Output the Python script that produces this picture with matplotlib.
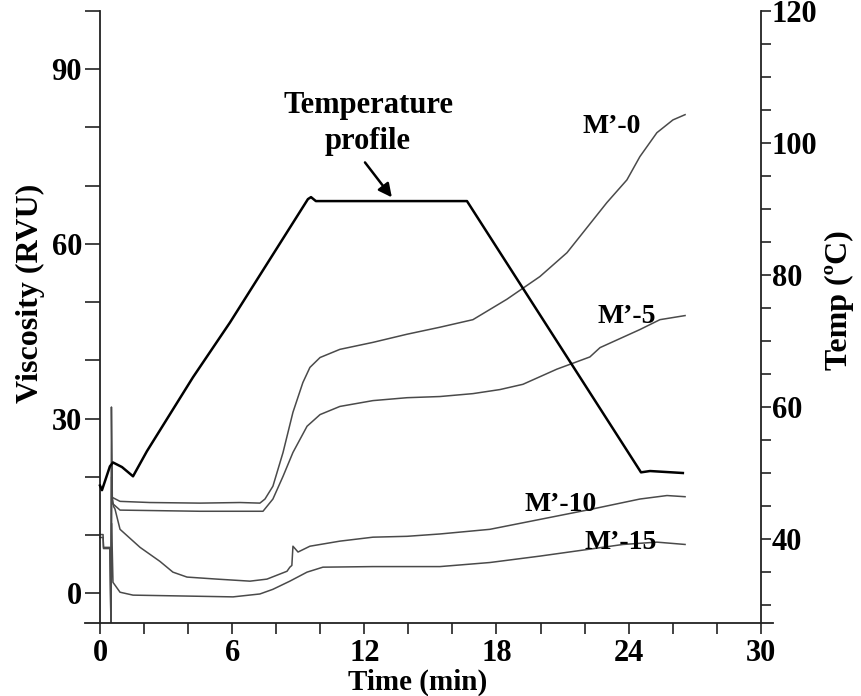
import numpy as np
import matplotlib
matplotlib.use("Agg")
import matplotlib.pyplot as plt

plt.rcParams['font.family'] = ['Liberation Serif', 'DejaVu Serif']
plt.rcParams['font.weight'] = 'bold'
plt.rcParams['axes.labelweight'] = 'bold'

# RVA pasting curves, time in min, viscosity in RVU
m0_t = [0.50, 0.53, 0.55, 0.91, 2.27, 4.54, 6.36, 7.26, 7.49, 7.85, 8.31, 8.76, 9.21, 9.53,
        9.99, 10.89, 12.39, 13.94, 15.43, 16.93, 18.47, 19.97, 21.2, 21.79, 23.01, 23.92,
        24.51, 25.28, 26.01, 26.56]
m0_v = [-6, 22.0, 16.5, 15.8, 15.6, 15.5, 15.6, 15.5, 16.2, 18.4, 24.2, 31.1, 36.2, 38.8,
        40.5, 41.9, 43.1, 44.5, 45.7, 47.0, 50.5, 54.4, 58.5, 61.3, 67.1, 71.0,
        75.0, 79.1, 81.3, 82.2]

m5_t = [0.50, 0.53, 0.55, 0.91, 4.54, 7.40, 7.85, 8.31, 8.76, 9.40, 9.99, 10.89, 12.39,
        13.94, 15.43, 16.93, 18.16, 19.20, 20.74, 22.24, 22.70, 24.51, 25.42, 26.56]
m5_v = [-6, 20.0, 15.5, 14.3, 14.1, 14.1, 16.2, 20.1, 24.2, 28.7, 30.7, 32.1, 33.1,
        33.6, 33.8, 34.3, 35.0, 35.9, 38.5, 40.6, 42.2, 45.3, 47.0, 47.7]

m10_t = [0, 0.14, 0.16, 0.45, 0.50, 0.52, 0.56, 0.62, 0.68, 0.91, 1.82, 2.72, 3.31, 3.95,
         5.31, 6.81, 7.58, 8.49, 8.62, 8.71, 8.76, 8.99, 9.53, 10.89, 12.39, 13.94, 15.43,
         17.7, 19.97, 22.24, 24.51, 25.74, 26.56]
m10_v = [10.1, 10.1, 7.7, 7.7, -6, 32.0, 16.5, 14.9, 14.5, 11.0, 7.9, 5.5, 3.65, 2.8,
         2.45, 2.1, 2.45, 3.8, 4.5, 4.8, 8.1, 7.1, 8.1, 8.97, 9.65, 9.8, 10.2,
         11.0, 12.7, 14.4, 16.2, 16.8, 16.6]

m15_t = [0, 0.14, 0.16, 0.45, 0.50, 0.53, 0.59, 0.91, 1.5, 4.54, 6.04, 7.26, 7.85, 8.62,
         9.4, 10.12, 12.39, 15.43, 17.7, 19.97, 22.24, 23.74, 25.28, 26.56]
m15_v = [9.6, 9.6, 7.9, 7.9, -6, 12.0, 1.9, 0.2, -0.3, -0.5, -0.6, -0.1, 0.7, 2.1,
         3.65, 4.5, 4.6, 4.6, 5.3, 6.4, 7.6, 8.4, 8.8, 8.4]

# temperature program (deg C)
temp_t = [0, 0.09, 0.45, 0.59, 1.0, 1.5, 2.13, 4.22, 5.9, 9.44, 9.58, 9.8, 16.66,
          24.56, 24.97, 26.46]
temp_c = [48.1, 47.4, 51.0, 51.6, 50.9, 49.5, 53.3, 64.5, 72.8, 91.5, 91.8, 91.2, 91.2,
          50.1, 50.3, 50.0]

names = ["M\u2019-0", "M\u2019-5", "M\u2019-10", "M\u2019-15"]
label_pos = [(23.24, 79.1), (23.92, 46.5), (20.93, 14.1), (23.65, 7.6)]

fig = plt.figure(figsize=(8.62, 6.96), dpi=100)
ax = fig.add_axes([0.0981, 0.1056, 0.7986, 0.8786])
ax2 = ax.twinx()

grey = '#4a4a4a'
for t, v in [(m0_t, m0_v), (m5_t, m5_v), (m10_t, m10_v), (m15_t, m15_v)]:
    ax.plot(t, v, color=grey, lw=1.1)
ax2.plot(temp_t, temp_c, color='black', lw=1.8)

for name, (x, y) in zip(names, label_pos):
    ax.text(x, y, name, ha='center', va='baseline', fontsize=20)

ax.text(12.17, 82.5, 'Temperature', ha='center', va='baseline', fontsize=22)
ax.text(12.17, 76.3, 'profile', ha='center', va='baseline', fontsize=22)
ax.annotate('', xy=(13.25, 68.0), xytext=(12.03, 74.0),
            arrowprops=dict(arrowstyle='-|>', color='black', lw=1.8, mutation_scale=20,
                            shrinkA=0, shrinkB=0))

ax.set_xlim(-0.7, 30.55)
ax.set_ylim(-5, 100)
ax2.set_ylim(27.35, 120)

for s in ['top', 'right']:
    ax.spines[s].set_visible(False)
for s in ['top', 'left', 'bottom']:
    ax2.spines[s].set_visible(False)
ax.spines['left'].set_position(('data', 0))
ax2.spines['right'].set_position(('data', 30))
for sp in [ax.spines['left'], ax.spines['bottom'], ax2.spines['right']]:
    sp.set_linewidth(1.3)
    sp.set_color('#222222')

ax.set_xticks(np.arange(0, 31, 6))
ax.set_xticks(np.arange(0, 31, 2), minor=True)
ax.set_yticks([0, 30, 60, 90])
ax.set_yticks(np.arange(0, 101, 10), minor=True)
ax2.set_yticks([40, 60, 80, 100, 120])
ax2.set_yticks(np.arange(30, 121, 5), minor=True)

ax.tick_params(axis='x', which='both', direction='out', length=8, width=1.2,
               labelsize=22, pad=4, color='#222222')
ax.tick_params(axis='y', which='both', direction='out', length=11, width=1.2,
               labelsize=22, pad=2, color='#222222')
ax2.tick_params(axis='y', which='both', direction='out', length=7, width=1.2,
                labelsize=22, pad=1, color='#222222')

ax.set_xlabel('Time (min)', fontsize=21)
ax.xaxis.set_label_coords(0.4845, -0.076)
ax.set_ylabel('Viscosity (RVU)', fontsize=23)
ax.yaxis.set_label_coords(-0.0575, 0.539)
ax2.set_ylabel('Temp (\u00baC)', fontsize=23)
ax2.yaxis.set_label_coords(1.075, 0.527)

fig.savefig('out.png', dpi=100)
